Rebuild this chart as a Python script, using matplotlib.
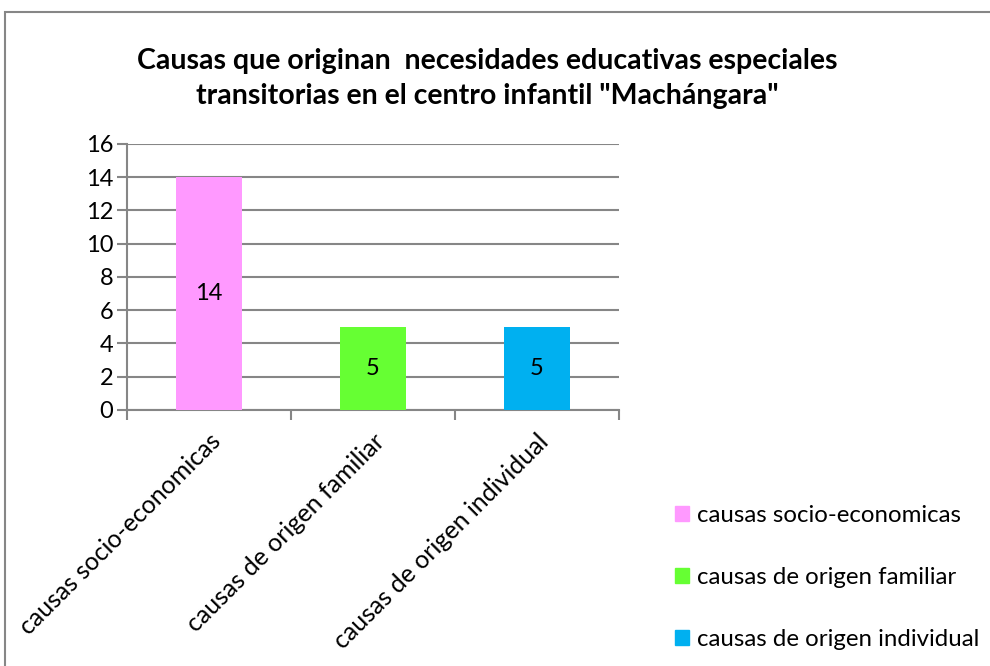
import numpy as np
import matplotlib
matplotlib.use("Agg")
import matplotlib.pyplot as plt
import matplotlib.patches as mpatches

plt.rcParams['font.family'] = ['Lato', 'DejaVu Sans']

categorias = ["causas socio-economicas", "causas de origen familiar", "causas de origen individual"]
valores = [14, 5, 5]
colores = ["#ff99ff", "#66ff33", "#00b0f0"]
titulo = 'Causas que originan  necesidades educativas especiales\ntransitorias en el centro infantil "Machángara"'

fig = plt.figure(figsize=(9.9, 6.66), dpi=100)
ax = fig.add_axes([0.1283, 0.3844, 0.4970, 0.3994])

x = np.arange(len(categorias))
bars = ax.bar(x, valores, width=0.4, color=colores, zorder=3)
for b, v in zip(bars, valores):
    ax.text(b.get_x() + b.get_width() / 2, v / 2, str(v), ha='center', va='center',
            fontsize=17, zorder=4)

ax.set_xlim(-0.5, len(categorias) - 0.5)
ax.set_ylim(0, 16)
ax.set_yticks(range(0, 17, 2))
ax.yaxis.grid(True, color='#868686', linewidth=1.5, zorder=0)
ax.tick_params(axis='y', length=7, width=1.5, color='#868686', labelsize=17, pad=3)

# category ticks sit between bars, labels at bar centres
ax.set_xticks(np.arange(-0.5, len(categorias)), minor=False)
ax.set_xticklabels([])
ax.set_xticks(x, minor=True)
ax.set_xticklabels(categorias, minor=True, rotation=45, ha='right', va='top',
                   rotation_mode='anchor', fontsize=18)
ax.tick_params(axis='x', which='major', length=7, width=1.5, color='#868686')
ax.tick_params(axis='x', which='minor', length=0, pad=14)

for s in ['top', 'right']:
    ax.spines[s].set_visible(False)
for s in ['left', 'bottom']:
    ax.spines[s].set_color('#868686')
    ax.spines[s].set_linewidth(1.5)

fig.text(0.492, 0.882, titulo, ha='center', va='center', fontsize=20.5,
         fontweight='bold', linespacing=1.4)

handles = [mpatches.Patch(color=c, label=l) for c, l in zip(colores, categorias)]
fig.legend(handles=handles, loc='center left', bbox_to_anchor=(0.66, 0.133),
           frameon=False, fontsize=17.3, handlelength=0.6, handleheight=0.6,
           handletextpad=0.3, labelspacing=1.7)

border = mpatches.Rectangle((5 / 990, -0.2), 1.2, 1.2 - 12 / 666, transform=fig.transFigure,
                            fill=False, edgecolor='#868686', linewidth=1.5)
fig.patches.append(border)

fig.savefig('out.png', dpi=100)
